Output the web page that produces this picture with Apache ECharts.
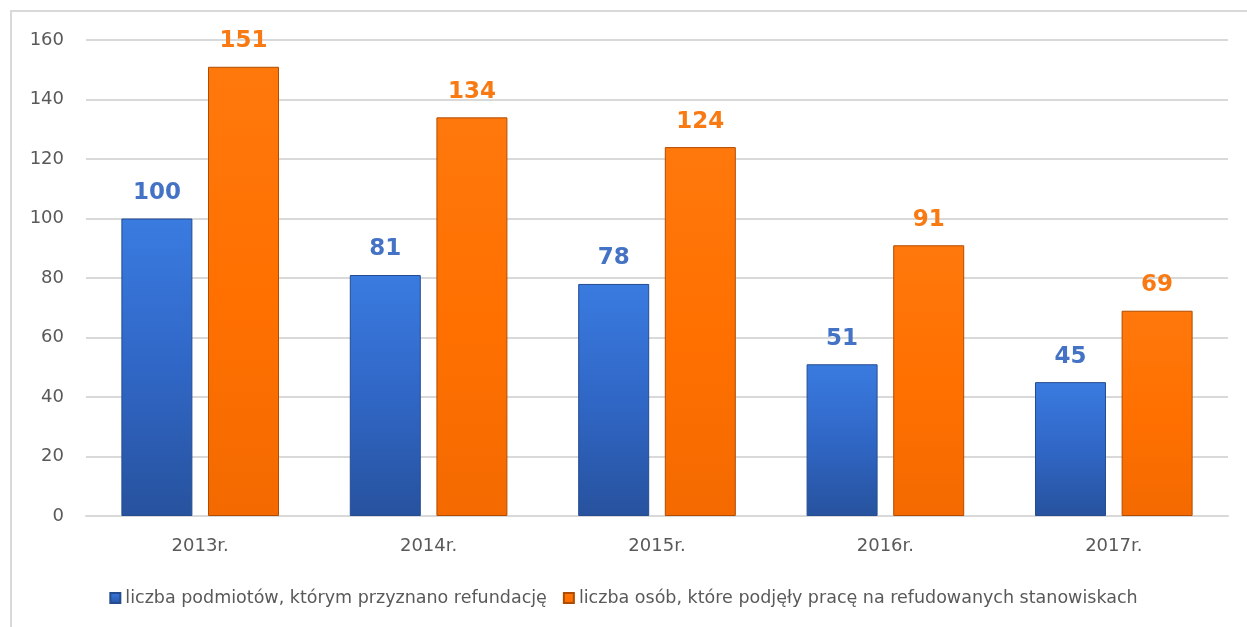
<!DOCTYPE html>
<html>
<head>
<meta charset="utf-8">
<script src="https://cdn.jsdelivr.net/npm/echarts@6/dist/echarts.min.js"></script>
<style>
  html, body { margin: 0; padding: 0; background: #fff; }
  #frame { position: absolute; left: 10px; top: 10px; width: 1250px; height: 640px; border: 2px solid #d9d9d9; box-sizing: border-box; }
  #chart { position: absolute; left: 0; top: 0; width: 1247px; height: 627px; }
</style>
</head>
<body>
<div id="frame"></div>
<div id="chart"></div>
<script>
const years = ['2013r.', '2014r.', '2015r.', '2016r.', '2017r.'];
const podmioty = [100, 81, 78, 51, 45];
const osoby = [151, 134, 124, 91, 69];
const seriesNames = [
  'liczba podmiotów, którym przyznano refundację',
  'liczba osób, które podjęły pracę na refudowanych stanowiskach'
];

const blueFill = new echarts.graphic.LinearGradient(0, 0, 0, 1, [
  { offset: 0, color: '#3a7be0' },
  { offset: 0.5, color: '#3067c6' },
  { offset: 1, color: '#27529e' }
]);
const orangeFill = new echarts.graphic.LinearGradient(0, 0, 0, 1, [
  { offset: 0, color: '#ff780c' },
  { offset: 0.5, color: '#ff7000' },
  { offset: 1, color: '#f46a00' }
]);

const chart = echarts.init(document.getElementById('chart'));
chart.setOption({
  animation: false,
  textStyle: { fontFamily: 'DejaVu Sans' },
  grid: { left: 86, right: 19, top: 40, bottom: 111 },
  legend: {
    bottom: 15,
    left: 'center',
    itemWidth: 10,
    itemHeight: 10,
    itemGap: 16,
    textStyle: { fontSize: 17.5, color: '#595959' },
    data: [
      { name: seriesNames[0], icon: 'rect' },
      { name: seriesNames[1], icon: 'rect' }
    ]
  },
  xAxis: {
    type: 'category',
    data: years,
    axisLine: { lineStyle: { color: '#d9d9d9', width: 2 } },
    axisTick: { show: false },
    axisLabel: { fontSize: 18, color: '#595959', margin: 21 }
  },
  yAxis: {
    type: 'value',
    min: 0,
    max: 160,
    interval: 20,
    axisLine: { show: false },
    axisTick: { show: false },
    axisLabel: { fontSize: 18, color: '#595959', margin: 22 },
    splitLine: { lineStyle: { color: '#d9d9d9', width: 2 } }
  },
  series: [
    {
      name: seriesNames[0],
      type: 'bar',
      data: podmioty,
      barWidth: 71,
      barGap: '22%',
      itemStyle: { color: blueFill, borderColor: '#244c8f', borderWidth: 1 },
      label: { show: true, position: 'top', distance: 14, fontSize: 23, fontWeight: 'bold', color: '#4472c4' }
    },
    {
      name: seriesNames[1],
      type: 'bar',
      data: osoby,
      barWidth: 71,
      itemStyle: { color: orangeFill, borderColor: '#b04c00', borderWidth: 1 },
      label: { show: true, position: 'top', distance: 14, fontSize: 23, fontWeight: 'bold', color: '#f97a12' }
    }
  ]
});
</script>
</body>
</html>
